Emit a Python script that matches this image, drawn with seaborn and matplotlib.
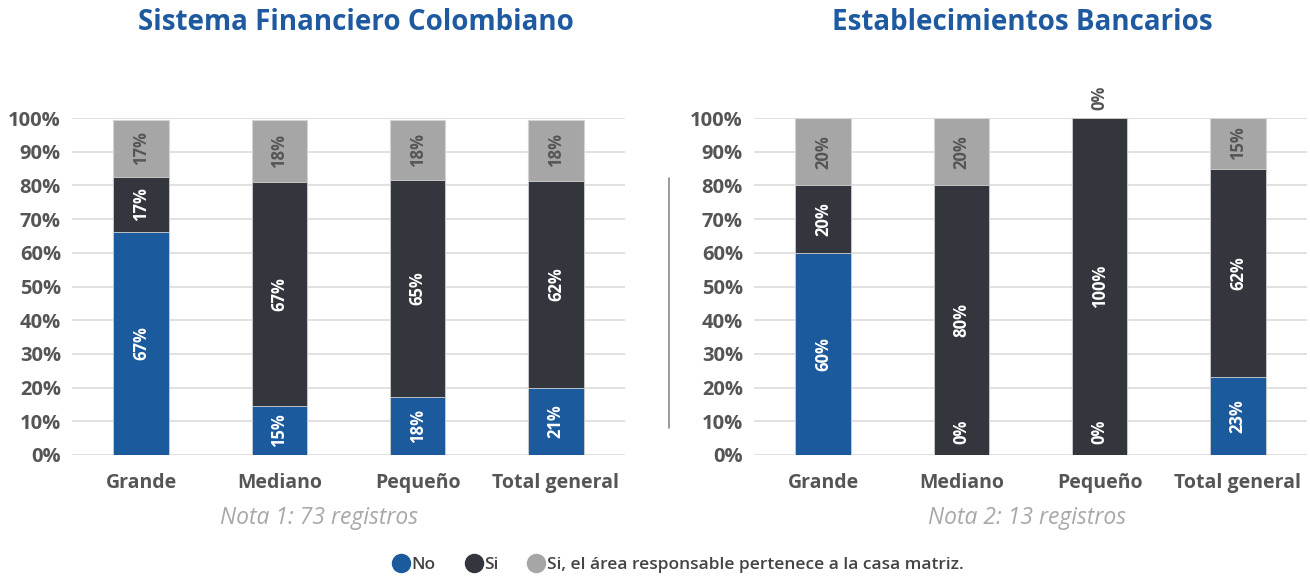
import matplotlib
matplotlib.use("Agg")
import matplotlib.pyplot as plt
from matplotlib.lines import Line2D
import seaborn as sns
import pandas as pd
import numpy as np

categories = ["Grande", "Mediano", "Pequeño", "Total general"]

# Sistema Financiero Colombiano (segment heights, %)
sfc_no = [66.2, 14.5, 17.2, 19.9]
sfc_si = [16.4, 66.5, 64.4, 61.4]
sfc_casa = [16.9, 18.5, 17.9, 18.2]
sfc_lbl_no = ["67%", "15%", "18%", "21%"]
sfc_lbl_si = ["17%", "67%", "65%", "62%"]
sfc_lbl_casa = ["17%", "18%", "18%", "18%"]

# Establecimientos Bancarios
eb_no = [60, 0, 0, 23]
eb_si = [20, 80, 100, 62]
eb_casa = [20, 20, 0, 15]
eb_lbl_no = ["60%", "0%", "0%", "23%"]
eb_lbl_si = ["20%", "80%", "100%", "62%"]
eb_lbl_casa = ["20%", "20%", "0%", "15%"]

titles = ["Sistema Financiero Colombiano", "Establecimientos Bancarios"]
notes = ["Nota 1: 73 registros", "Nota 2: 13 registros"]
legend_labels = ["No", "Si", "Si, el área responsable pertenece a la casa matriz."]

C_NO = "#1b5a9c"
C_SI = "#33363d"
C_CASA = "#a6a6a6"
C_TITLE = "#1f5aa0"
C_TICK = "#555555"

sns.set_theme(style="white")
plt.rcParams["font.family"] = ["Open Sans", "DejaVu Sans"]

fig = plt.figure(figsize=(13.1, 5.77), dpi=100)
ax1 = fig.add_axes([72 / 1310, 122 / 577, 553 / 1310, 337 / 577])
ax2 = fig.add_axes([754 / 1310, 122 / 577, 553 / 1310, 337 / 577])


def draw(ax, no, si, casa, lno, lsi, lcasa, title, title_x):
    no = np.array(no, float)
    si = np.array(si, float)
    casa = np.array(casa, float)
    df = pd.DataFrame({"cat": categories, "no": no, "nosi": no + si, "tot": no + si + casa})
    kw = dict(x="cat", order=categories, ax=ax, saturation=1, width=0.4, zorder=3)
    sns.barplot(data=df, y="tot", color=C_CASA, edgecolor="#d4d4d4", linewidth=0.8, **kw)
    sns.barplot(data=df, y="nosi", color=C_SI, edgecolor="#d4d4d4", linewidth=0.6, **kw)
    sns.barplot(data=df, y="no", color=C_NO, edgecolor="#d4d4d4", linewidth=0.6, **kw)
    ax.set_xlim(-0.5, 3.5)
    ax.set_ylim(0, 100)
    ax.set_yticks(range(0, 101, 10))
    ax.set_yticklabels([f"{v}%" for v in range(0, 101, 10)])
    ax.yaxis.grid(True, color="#dcdcdc", linewidth=1.2, zorder=0)
    ax.set_axisbelow(True)
    for s in ax.spines.values():
        s.set_visible(False)
    ax.set_xlabel("")
    ax.set_ylabel("")
    ax.tick_params(axis="y", length=0, labelsize=14.5, labelcolor=C_TICK, pad=8)
    ax.tick_params(axis="x", length=0, labelsize=14, labelcolor=C_TICK, pad=13)
    for t in ax.get_xticklabels() + ax.get_yticklabels():
        t.set_fontweight("bold")
    txt = dict(rotation=90, ha="center", va="center", fontsize=12,
               fontweight="bold", zorder=5, clip_on=False)
    for i in range(len(categories)):
        y = no[i] / 2 if no[i] > 0 else 7
        ax.text(i, y, lno[i], color="white", **txt)
        y = no[i] + si[i] / 2 if si[i] > 0 else no[i] + 7
        ax.text(i, y, lsi[i], color="white", **txt)
        top = no[i] + si[i]
        if casa[i] > 0:
            ax.text(i, top + casa[i] / 2, lcasa[i], color=C_TICK, **txt)
        else:
            ax.text(i, top + 6, lcasa[i], color=C_TICK, **txt)
    fig.text(title_x, 1 - 22 / 577, title, ha="center", va="center",
             fontsize=20, fontweight="bold", color=C_TITLE)


draw(ax1, sfc_no, sfc_si, sfc_casa, sfc_lbl_no, sfc_lbl_si, sfc_lbl_casa,
     titles[0], 356 / 1310)
draw(ax2, eb_no, eb_si, eb_casa, eb_lbl_no, eb_lbl_si, eb_lbl_casa,
     titles[1], 1022 / 1310)

fig.text(319 / 1310, 1 - 518 / 577, notes[0], ha="center", va="center",
         fontsize=16.5, style="italic", color="#a8a8a8")
fig.text(1027 / 1310, 1 - 518 / 577, notes[1], ha="center", va="center",
         fontsize=16.5, style="italic", color="#a8a8a8")

# separator
fig.add_artist(Line2D([669 / 1310, 669 / 1310], [1 - 178 / 577, 1 - 428 / 577],
                      color="#8a8a8a", linewidth=1.2))

handles = [Line2D([], [], marker="o", linestyle="", markersize=13,
                  markerfacecolor=c, markeredgecolor=c) for c in (C_NO, C_SI, C_CASA)]
leg = fig.legend(handles, legend_labels, loc="center", bbox_to_anchor=(677 / 1310, 1 - 565 / 577),
                 ncol=3, frameon=False, handletextpad=0.0, columnspacing=1.6,
                 handlelength=1.2, fontsize=12.5)
for t in leg.get_texts():
    t.set_color("#444444")
    t.set_fontweight("semibold")

fig.savefig("out.png", dpi=100)
